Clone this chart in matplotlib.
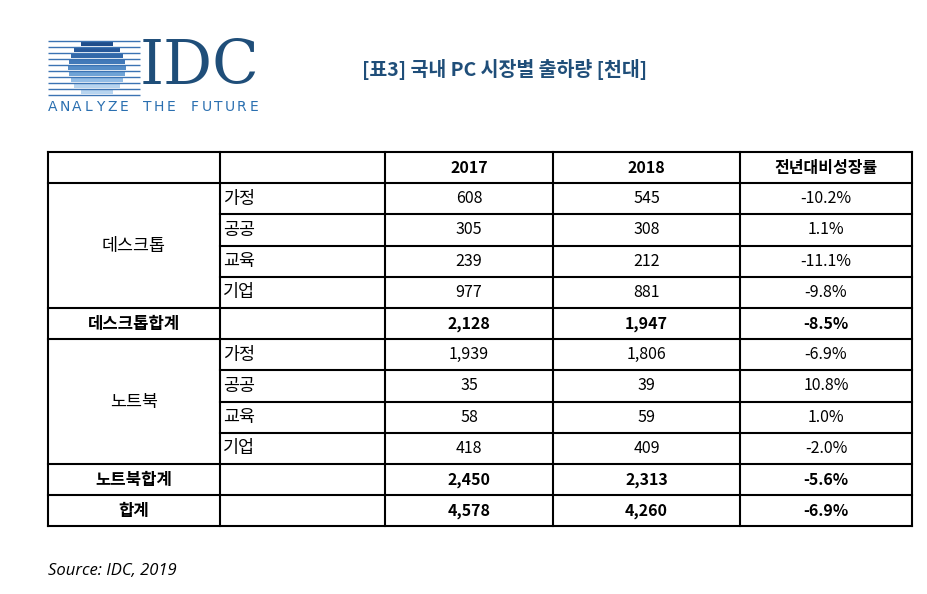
import matplotlib
matplotlib.use("Agg")
import matplotlib.pyplot as plt
import numpy as np

plt.rcParams['font.family'] = ['Noto Sans CJK KR', 'DejaVu Sans']

title = "[표3] 국내 PC 시장별 출하량 [천대]"
header = ["", "", "2017", "2018", "전년대비성장률"]
groups = ["데스크톱", "노트북"]
segments = ["가정", "공공", "교육", "기업"]
desk_2017 = ["608", "305", "239", "977"]
desk_2018 = ["545", "308", "212", "881"]
desk_growth = ["-10.2%", "1.1%", "-11.1%", "-9.8%"]
desk_total = ["데스크톱합계", "2,128", "1,947", "-8.5%"]
note_2017 = ["1,939", "35", "58", "418"]
note_2018 = ["1,806", "39", "59", "409"]
note_growth = ["-6.9%", "10.8%", "1.0%", "-2.0%"]
note_total = ["노트북합계", "2,450", "2,313", "-5.6%"]
grand_total = ["합계", "4,578", "4,260", "-6.9%"]
source = "Source: IDC, 2019"
tagline = "ANALYZE THE FUTURE"

W, H = 927, 594
fig = plt.figure(figsize=(W/100, H/100), dpi=100)
ax = fig.add_axes([0, 0, 1, 1])
ax.set_xlim(0, W); ax.set_ylim(H, 0); ax.axis('off')

# logo
cx, cy, r = 97, 68, 29
blues = ['#1f4e8c', '#28599a', '#3469a9', '#4279b8', '#568dc7', '#6fa3d6', '#93bde6', '#b7d4ef']
ys = np.linspace(41, 95, 10)
for y in ys:
    ax.plot([48, 140], [y, y], color='#3b73b3', lw=1.0, solid_capstyle='butt')
for i in range(len(ys) - 1):
    y0, y1 = ys[i] + 1.0, ys[i + 1] - 1.0
    ym = (y0 + y1) / 2
    hw = np.sqrt(max(r**2 - (ym - cy)**2, 0))
    if hw > 0:
        ax.fill_between([cx - hw, cx + hw], y0, y1, color=blues[min(i, 7)], lw=0)
ax.text(140, 67, "IDC", family='DejaVu Serif', fontsize=44, color='#1f4e79', va='center', ha='left')
for k, ch in enumerate(tagline):
    ax.text(53 + k * 11.8, 107, ch, fontsize=10, color='#2a6fb0', va='center', ha='center',
            family='DejaVu Sans')
ax.text(505, 69, title, fontsize=14, color='#1f4e79', fontweight='bold', ha='center', va='center')

xs = [48, 220, 385, 553, 740, 912]
top, rh = 152, 31.2
rows_y = [top + i * rh for i in range(13)]
lw = 1.5

def cy_(i):
    return (rows_y[i] + rows_y[i + 1]) / 2

for x in xs:
    ax.plot([x, x], [rows_y[0], rows_y[-1]], color='black', lw=lw)
for i, y in enumerate(rows_y):
    if i in (2, 3, 4, 7, 8, 9):
        ax.plot([xs[1], xs[-1]], [y, y], color='black', lw=lw)
    else:
        ax.plot([xs[0], xs[-1]], [y, y], color='black', lw=lw)

fs = 11.5
for j, h in enumerate(header):
    if h:
        ax.text((xs[j] + xs[j + 1]) / 2, cy_(0), h, fontsize=fs, fontweight='bold', ha='center', va='center')

def block(start, name, v17, v18, g):
    ax.text((xs[0] + xs[1]) / 2, (rows_y[start] + rows_y[start + 4]) / 2, name, fontsize=fs + 1, ha='center', va='center')
    for k in range(4):
        y = cy_(start + k)
        ax.text(xs[1] + 3, y, segments[k], fontsize=fs + 1, ha='left', va='center')
        ax.text((xs[2] + xs[3]) / 2, y, v17[k], fontsize=fs, ha='center', va='center')
        ax.text((xs[3] + xs[4]) / 2, y, v18[k], fontsize=fs, ha='center', va='center')
        ax.text((xs[4] + xs[5]) / 2, y, g[k], fontsize=fs, ha='center', va='center')

def total(i, vals):
    y = cy_(i)
    ax.text((xs[0] + xs[1]) / 2, y, vals[0], fontsize=fs + 0.5, fontweight='bold', ha='center', va='center')
    for j, v in enumerate(vals[1:]):
        ax.text((xs[j + 2] + xs[j + 3]) / 2, y, v, fontsize=fs, fontweight='bold', ha='center', va='center')

block(1, groups[0], desk_2017, desk_2018, desk_growth)
total(5, desk_total)
block(6, groups[1], note_2017, note_2018, note_growth)
total(10, note_total)
total(11, grand_total)

ax.text(48, 571, source, fontsize=12, style='italic', family='Open Sans', ha='left', va='center')
fig.savefig("out.png", dpi=100)
